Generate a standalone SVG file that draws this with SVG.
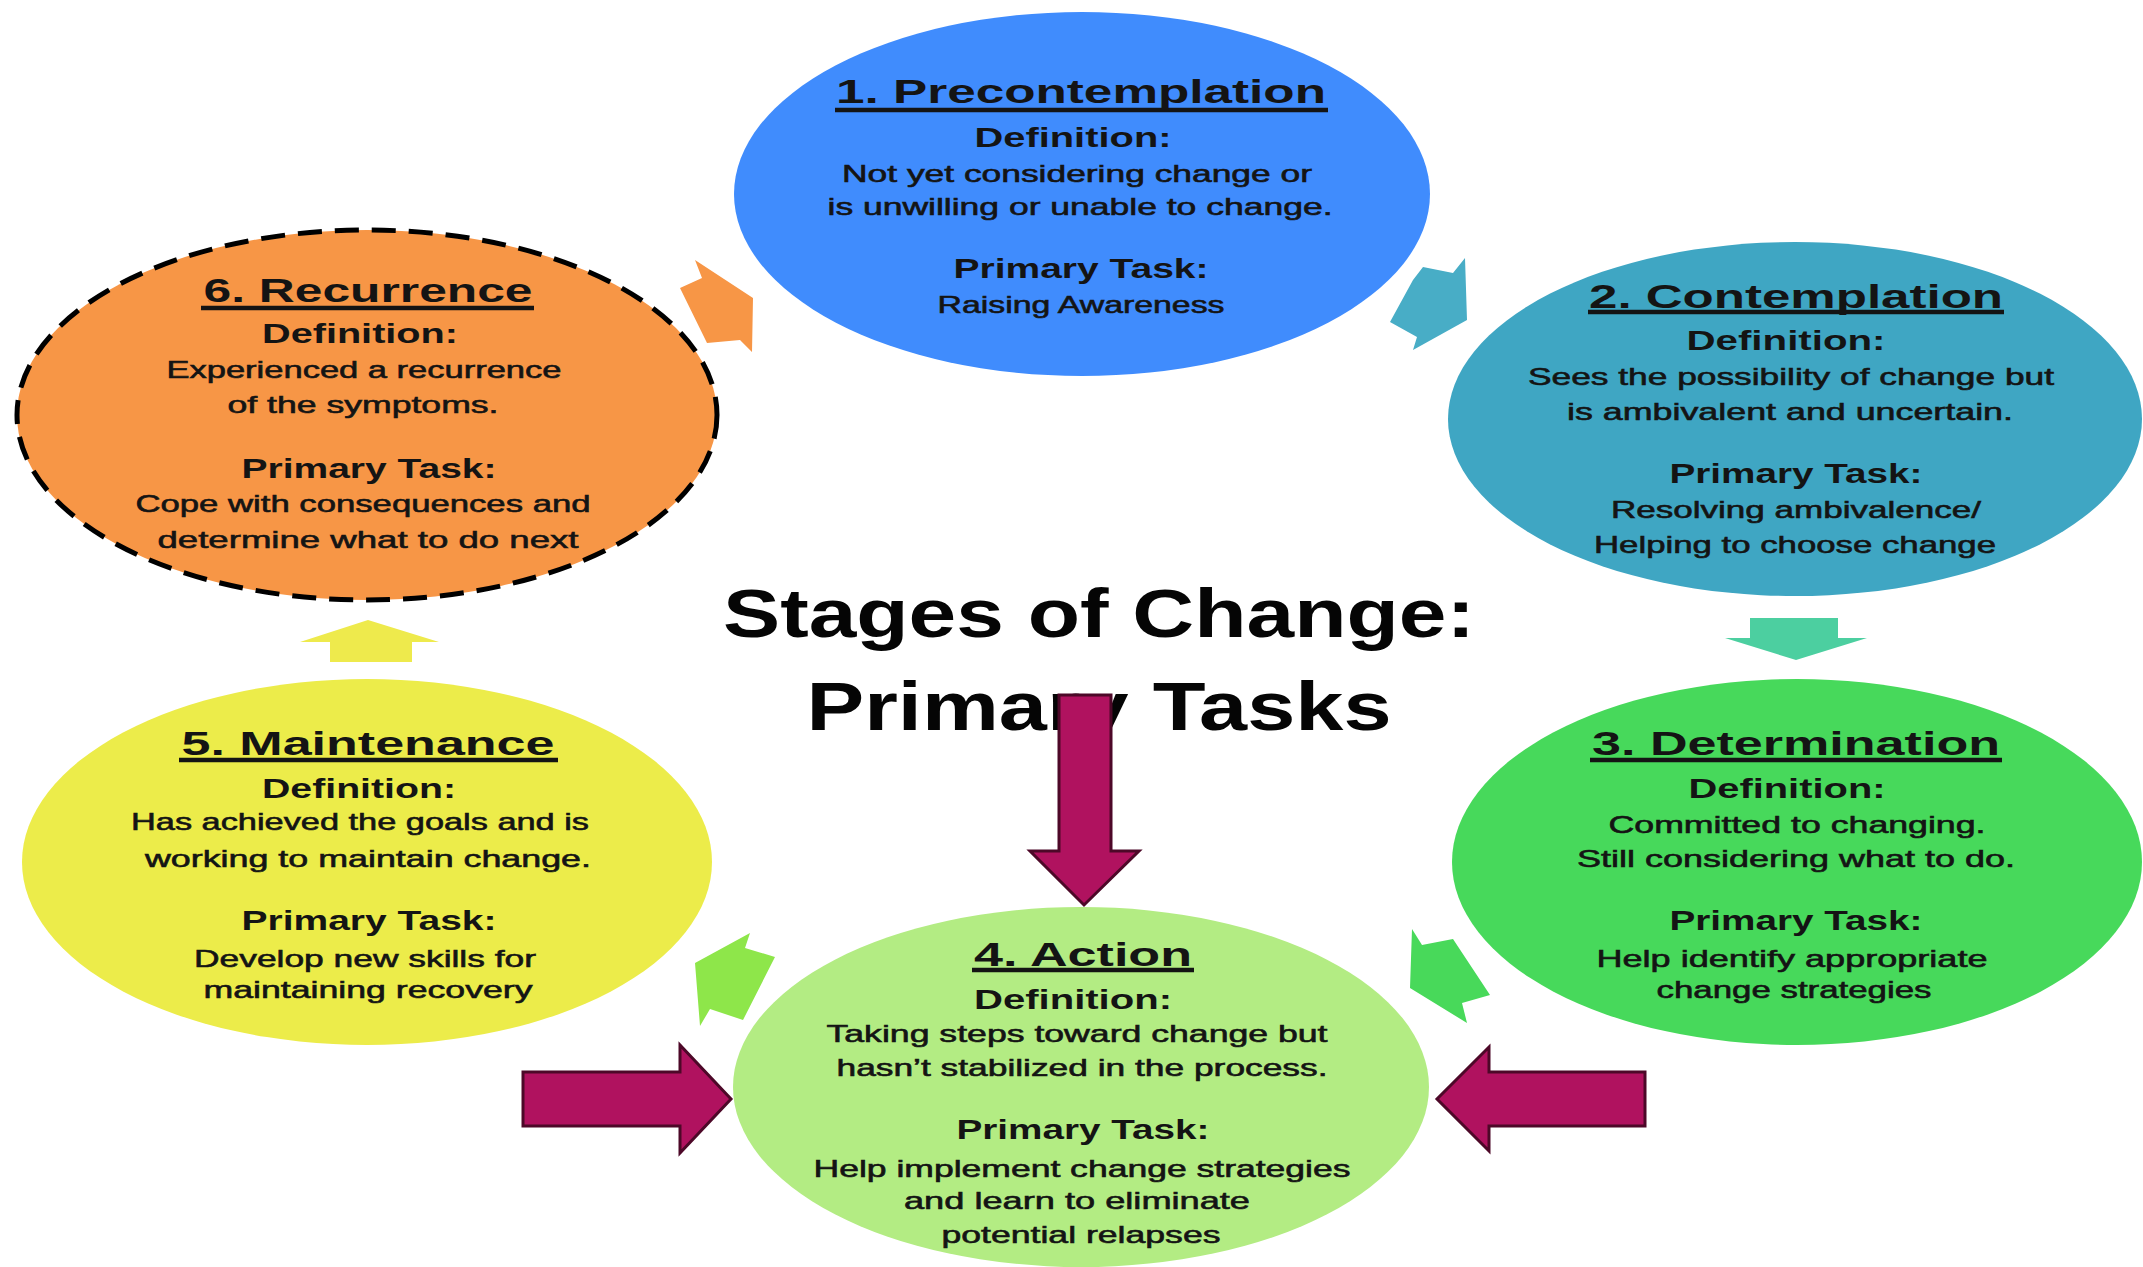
<svg xmlns="http://www.w3.org/2000/svg" width="2143" height="1267" viewBox="0 0 2143 1267">
<style>
text{font-family:"Liberation Sans",Arial,sans-serif;fill:#141414;text-anchor:middle}
.t{font-size:34px;font-weight:bold}
.h{font-size:28px;font-weight:bold}
.b{font-size:24px;stroke:#141414;stroke-width:0.6}
.big{font-size:68px;font-weight:bold;fill:#050505}
.ul{stroke:#141414;stroke-width:4.5}
.pa{fill:#b0125f;stroke:#4d0828;stroke-width:3;stroke-linejoin:miter}
</style>
<rect width="2143" height="1267" fill="#ffffff"/>
<g id="node-precontemplation">
<ellipse cx="1082" cy="194" rx="348" ry="182" fill="#408cfd"/>
<text class="t" x="1081" y="103" textLength="490" lengthAdjust="spacingAndGlyphs">1. Precontemplation</text>
<line class="ul" x1="835" y1="110" x2="1328" y2="110"/>
<text class="h" x="1073" y="147" textLength="197" lengthAdjust="spacingAndGlyphs">Definition:</text>
<text class="b" x="1077" y="182" textLength="470" lengthAdjust="spacingAndGlyphs">Not yet considering change or</text>
<text class="b" x="1080" y="215" textLength="505" lengthAdjust="spacingAndGlyphs">is unwilling or unable to change.</text>
<text class="h" x="1081" y="278" textLength="255" lengthAdjust="spacingAndGlyphs">Primary Task:</text>
<text class="b" x="1081" y="313" textLength="287" lengthAdjust="spacingAndGlyphs">Raising Awareness</text>
</g>
<g id="node-contemplation">
<ellipse cx="1795" cy="419" rx="347" ry="177" fill="#3fa6c3"/>
<text class="t" x="1796" y="308" textLength="414" lengthAdjust="spacingAndGlyphs">2. Contemplation</text>
<line class="ul" x1="1588" y1="312" x2="2004" y2="312"/>
<text class="h" x="1786" y="350" textLength="199" lengthAdjust="spacingAndGlyphs">Definition:</text>
<text class="b" x="1791" y="385" textLength="526" lengthAdjust="spacingAndGlyphs">Sees the possibility of change but</text>
<text class="b" x="1790" y="420" textLength="446" lengthAdjust="spacingAndGlyphs">is ambivalent and uncertain.</text>
<text class="h" x="1796" y="483" textLength="253" lengthAdjust="spacingAndGlyphs">Primary Task:</text>
<text class="b" x="1796" y="518" textLength="370" lengthAdjust="spacingAndGlyphs">Resolving ambivalence/</text>
<text class="b" x="1795" y="553" textLength="402" lengthAdjust="spacingAndGlyphs">Helping to choose change</text>
</g>
<g id="node-determination">
<ellipse cx="1797" cy="862" rx="345" ry="183" fill="#47d95b"/>
<text class="t" x="1796" y="755" textLength="408" lengthAdjust="spacingAndGlyphs">3. Determination</text>
<line class="ul" x1="1590" y1="760" x2="2002" y2="760"/>
<text class="h" x="1787" y="798" textLength="197" lengthAdjust="spacingAndGlyphs">Definition:</text>
<text class="b" x="1797" y="833" textLength="377" lengthAdjust="spacingAndGlyphs">Committed to changing.</text>
<text class="b" x="1796" y="867" textLength="438" lengthAdjust="spacingAndGlyphs">Still considering what to do.</text>
<text class="h" x="1796" y="930" textLength="253" lengthAdjust="spacingAndGlyphs">Primary Task:</text>
<text class="b" x="1792" y="967" textLength="391" lengthAdjust="spacingAndGlyphs">Help identify appropriate</text>
<text class="b" x="1794" y="998" textLength="275" lengthAdjust="spacingAndGlyphs">change strategies</text>
</g>
<g id="node-action">
<ellipse cx="1081" cy="1087" rx="348" ry="180" fill="#b3ec83"/>
<text class="t" x="1083" y="966" textLength="218" lengthAdjust="spacingAndGlyphs">4. Action</text>
<line class="ul" x1="972" y1="970" x2="1194" y2="970"/>
<text class="h" x="1073" y="1009" textLength="198" lengthAdjust="spacingAndGlyphs">Definition:</text>
<text class="b" x="1077" y="1042" textLength="501" lengthAdjust="spacingAndGlyphs">Taking steps toward change but</text>
<text class="b" x="1082" y="1076" textLength="491" lengthAdjust="spacingAndGlyphs">hasn’t stabilized in the process.</text>
<text class="h" x="1083" y="1139" textLength="253" lengthAdjust="spacingAndGlyphs">Primary Task:</text>
<text class="b" x="1082" y="1177" textLength="537" lengthAdjust="spacingAndGlyphs">Help implement change strategies</text>
<text class="b" x="1077" y="1209" textLength="346" lengthAdjust="spacingAndGlyphs">and learn to eliminate</text>
<text class="b" x="1081" y="1243" textLength="279" lengthAdjust="spacingAndGlyphs">potential relapses</text>
</g>
<g id="node-maintenance">
<ellipse cx="367" cy="862" rx="345" ry="183" fill="#ecec4a"/>
<text class="t" x="368" y="755" textLength="373" lengthAdjust="spacingAndGlyphs">5. Maintenance</text>
<line class="ul" x1="179" y1="760" x2="558" y2="760"/>
<text class="h" x="359" y="798" textLength="194" lengthAdjust="spacingAndGlyphs">Definition:</text>
<text class="b" x="360" y="830" textLength="458" lengthAdjust="spacingAndGlyphs">Has achieved the goals and is</text>
<text class="b" x="368" y="867" textLength="446" lengthAdjust="spacingAndGlyphs">working to maintain change.</text>
<text class="h" x="369" y="930" textLength="255" lengthAdjust="spacingAndGlyphs">Primary Task:</text>
<text class="b" x="365" y="967" textLength="342" lengthAdjust="spacingAndGlyphs">Develop new skills for</text>
<text class="b" x="368" y="998" textLength="329" lengthAdjust="spacingAndGlyphs">maintaining recovery</text>
</g>
<g id="node-recurrence">
<ellipse cx="367" cy="415" rx="350" ry="185" fill="#f79646" stroke="#000" stroke-width="5" stroke-dasharray="24 13"/>
<text class="t" x="368" y="302" textLength="329" lengthAdjust="spacingAndGlyphs">6. Recurrence</text>
<line class="ul" x1="201" y1="308" x2="534" y2="308"/>
<text class="h" x="360" y="343" textLength="196" lengthAdjust="spacingAndGlyphs">Definition:</text>
<text class="b" x="364" y="378" textLength="395" lengthAdjust="spacingAndGlyphs">Experienced a recurrence</text>
<text class="b" x="363" y="413" textLength="271" lengthAdjust="spacingAndGlyphs">of the symptoms.</text>
<text class="h" x="369" y="478" textLength="255" lengthAdjust="spacingAndGlyphs">Primary Task:</text>
<text class="b" x="363" y="512" textLength="455" lengthAdjust="spacingAndGlyphs">Cope with consequences and</text>
<text class="b" x="368" y="548" textLength="421" lengthAdjust="spacingAndGlyphs">determine what to do next</text>
</g>
<g id="title">
<text class="big" x="1099" y="637" textLength="752" lengthAdjust="spacingAndGlyphs">Stages of Change:</text>
<text class="big" x="1099" y="730" textLength="585" lengthAdjust="spacingAndGlyphs">Primary Tasks</text>
</g>
<g id="connectors">
<polygon fill="#f79646" points="695,260 753,298 752,352 740,340 707,343 680,288 702,278"/>
<polygon fill="#48adc6" points="1465,258 1467,320 1413,350 1417,337 1390,322 1413,280 1423,267 1453,273"/>
<polygon fill="#4ccfa0" points="1750,618 1838,618 1838,638 1867,638 1796,660 1725,638 1750,638"/>
<polygon fill="#48d95a" points="1412,929 1422,945 1453,939 1490,995 1462,1003 1467,1023 1410,988"/>
<polygon fill="#8ee64a" points="750,933 745,948 775,957 743,1020 710,1009 700,1026 695,963"/>
<polygon fill="#eeea4c" points="330,662 412,662 412,642 439,642 368,620 300,642 330,642"/>
<polygon class="pa" points="1059,695 1111,695 1111,851 1139,851 1084,905 1030,851 1059,851"/>
<polygon class="pa" points="523,1072 680,1072 680,1045 731,1099 680,1153 680,1126 523,1126"/>
<polygon class="pa" points="1645,1072 1489,1072 1489,1047 1437,1099 1489,1151 1489,1126 1645,1126"/>
</g>
</svg>
